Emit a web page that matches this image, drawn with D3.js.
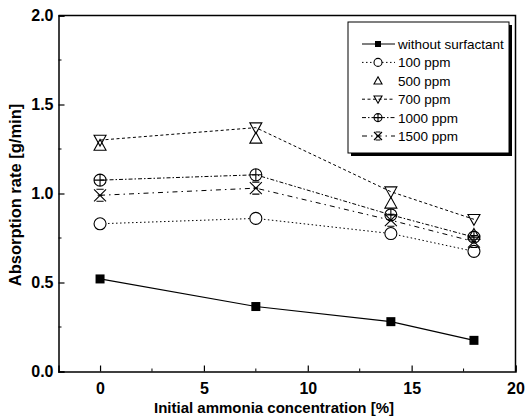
<!DOCTYPE html>
<html>
<head>
<meta charset="utf-8">
<script src="https://cdn.jsdelivr.net/npm/d3@7"></script>
<style>
  body { margin: 0; background: #fff; }
  text { font-family: "Liberation Sans", Arial, sans-serif; }
</style>
</head>
<body>
<div class="graph"></div>
<script>
// data
var concentrations = [0, 7.5, 14, 18];
var seriesNames = ["without surfactant", "100 ppm", "500 ppm", "700 ppm", "1000 ppm", "1500 ppm"];
var noSurfactant = [0.52, 0.365, 0.28, 0.175];
var ppm100 = [0.83, 0.86, 0.775, 0.675];
var ppm500 = [1.27, 1.31, 0.945, 0.77];
var ppm700 = [1.30, 1.37, 1.01, 0.855];
var ppm1000 = [1.075, 1.105, 0.88, 0.755];
var ppm1500 = [0.99, 1.03, 0.85, 0.73];
var xTicks = [0, 5, 10, 15, 20];
var yTicks = [0.0, 0.5, 1.0, 1.5, 2.0];

var w = 525, h = 418;
var plotLeft = 58.5, plotRight = 515.5, plotTop = 15.5, plotBottom = 371.5;

var series = [
  {name: seriesNames[0], values: noSurfactant, dash: null, line: true, sym: "square"},
  {name: seriesNames[1], values: ppm100, dash: "1.5,2.5", line: true, sym: "circle"},
  {name: seriesNames[2], values: ppm500, dash: null, line: false, sym: "up"},
  {name: seriesNames[3], values: ppm700, dash: "3,2.5", line: true, sym: "down"},
  {name: seriesNames[4], values: ppm1000, dash: "4,2,1.5,2", line: true, sym: "cplus"},
  {name: seriesNames[5], values: ppm1500, dash: "5,4,1.5,4", line: true, sym: "xbar"}
];

var x = d3.scaleLinear().domain([-2, 20]).range([plotLeft, plotRight]);
var y = d3.scaleLinear().domain([0, 2]).range([plotBottom, plotTop]);

var svg = d3.select(".graph").append("svg")
  .attr("width", w)
  .attr("height", h);

// axes with inward ticks
var xAxis = d3.axisBottom(x).tickValues(xTicks).tickSize(-6).tickPadding(11).tickFormat(d3.format("d"));
var yAxis = d3.axisLeft(y).tickValues(yTicks).tickSize(-6).tickPadding(5).tickFormat(d3.format(".1f"));

var gx = svg.append("g").attr("transform", "translate(0," + plotBottom + ")").call(xAxis);
var gy = svg.append("g").attr("transform", "translate(" + plotLeft + ",0)").call(yAxis);

gx.append("g").selectAll("line")
  .data([2.5, 7.5, 12.5, 17.5])
  .enter().append("line")
  .attr("x1", function(d) { return x(d); })
  .attr("x2", function(d) { return x(d); })
  .attr("y1", 0).attr("y2", -3)
  .attr("stroke", "#000");
gy.append("g").selectAll("line")
  .data([0.25, 0.75, 1.25, 1.75])
  .enter().append("line")
  .attr("y1", function(d) { return y(d); })
  .attr("y2", function(d) { return y(d); })
  .attr("x1", 0).attr("x2", 3)
  .attr("stroke", "#000");

[gx, gy].forEach(function(g) {
  g.select(".domain").attr("stroke-width", 1.5);
  g.selectAll(".tick line").attr("stroke-width", 1.2);
  g.selectAll("text").attr("font-size", "16px").attr("font-weight", "bold").attr("fill", "#000")
    .style("font-family", "'Liberation Sans', Arial, sans-serif");
});

// frame top and right
svg.append("path")
  .attr("d", "M" + plotLeft + "," + plotTop + "H" + plotRight + "V" + plotBottom)
  .attr("fill", "none").attr("stroke", "#000").attr("stroke-width", 1.5);

svg.append("text")
  .attr("x", 274)
  .attr("y", 413)
  .attr("text-anchor", "middle")
  .attr("font-size", "15px")
  .attr("font-weight", "bold")
  .text("Initial ammonia concentration [%]");

svg.append("text")
  .attr("transform", "translate(21,195) rotate(-90)")
  .attr("text-anchor", "middle")
  .attr("font-size", "16.5px")
  .attr("font-weight", "bold")
  .text("Absorption rate [g/min]");

function symbolPath(sym, s) {
  var r = s / 2;
  if (sym === "up") return "M0," + (-r) + "L" + r + "," + (r * 0.8) + "L" + (-r) + "," + (r * 0.8) + "Z";
  if (sym === "down") return "M0," + r + "L" + r + "," + (-r * 0.8) + "L" + (-r) + "," + (-r * 0.8) + "Z";
  if (sym === "xbar") return "M" + (-r) + "," + (-r) + "L" + r + "," + r + "M" + r + "," + (-r) + "L" + (-r) + "," + r +
    "M" + (-r * 0.6) + "," + (-r) + "H" + (r * 0.6) + "M" + (-r * 0.6) + "," + r + "H" + (r * 0.6) +
    "M" + (-r * 0.4) + ",0H" + (r * 0.4);
  if (sym === "cplus") return d3.arc()({innerRadius: 0, outerRadius: r, startAngle: 0, endAngle: 2 * Math.PI}) +
    "M" + (-r) + ",0H" + r + "M0," + (-r) + "V" + r;
  return "";
}

function drawSymbol(g, sym, size) {
  if (sym === "square") {
    g.append("rect").attr("x", -size / 2).attr("y", -size / 2).attr("width", size).attr("height", size).attr("fill", "#000");
  } else if (sym === "circle") {
    g.append("circle").attr("r", size / 2).attr("fill", "#fff").attr("stroke", "#000").attr("stroke-width", 1.1);
  } else {
    g.append("path").attr("d", symbolPath(sym, size)).attr("fill", "none")
      .attr("stroke", "#000").attr("stroke-width", 1.1);
  }
}

var line = d3.line()
  .x(function(d, i) { return x(concentrations[i]); })
  .y(function(d) { return y(d); });

series.forEach(function(s) {
  if (!s.line) return;
  svg.append("path")
    .attr("d", line(s.values))
    .attr("fill", "none")
    .attr("stroke", "#000")
    .attr("stroke-width", s.dash ? 1 : 1.2)
    .attr("stroke-dasharray", s.dash);
});

series.forEach(function(s) {
  svg.selectAll(null)
    .data(s.values)
    .enter()
    .append("g")
    .attr("transform", function(d, i) { return "translate(" + x(concentrations[i]) + "," + y(d) + ")"; })
    .each(function() { drawSymbol(d3.select(this), s.sym, s.sym === "square" ? 9 : 12); });
});

// legend
var lg = svg.append("g").attr("transform", "translate(348,22)");
lg.append("rect").attr("x", 3).attr("y", 3).attr("width", 161).attr("height", 131).attr("fill", "#000");
lg.append("rect").attr("x", 0).attr("y", 0).attr("width", 161).attr("height", 131)
  .attr("fill", "#fff").attr("stroke", "#000").attr("stroke-width", 1);

var rows = lg.selectAll("g.row")
  .data(series)
  .enter()
  .append("g")
  .attr("class", "row")
  .attr("transform", function(d, i) { return "translate(0," + (22 + i * 18.4) + ")"; });

rows.each(function(s) {
  var r = d3.select(this);
  if (s.line) {
    r.append("line").attr("x1", 14).attr("x2", 47).attr("y1", 0).attr("y2", 0)
      .attr("stroke", "#000").attr("stroke-width", s.dash ? 1 : 1.2).attr("stroke-dasharray", s.dash);
  }
  var sg = r.append("g").attr("transform", "translate(30,0)");
  drawSymbol(sg, s.sym, s.sym === "square" ? 6 : 8);
  r.append("text").attr("x", 50).attr("y", 5).attr("font-size", "13.5px").attr("fill", "#000").text(s.name);
});
</script>
</body>
</html>
